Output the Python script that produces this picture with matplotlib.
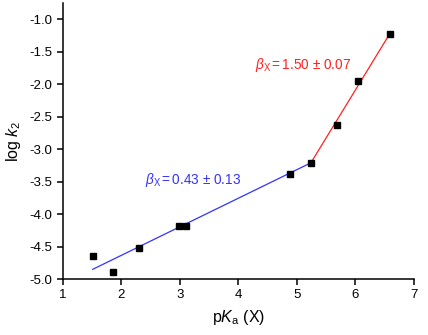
import numpy as np
import matplotlib
matplotlib.use("Agg")
import matplotlib.pyplot as plt

# ======================================================
# DATA
# ======================================================

pka = [1.51, 1.86, 2.30, 2.99, 3.11, 4.89, 5.24, 5.68, 6.04, 6.59]
logk2 = [-4.64, -4.89, -4.52, -4.18, -4.18, -3.39, -3.21, -2.63, -1.95, -1.22]

blue_fit_x = [1.51, 5.24]
blue_fit_y = [-4.85, -3.21]

red_fit_x = [5.24, 6.59]
red_fit_y = [-3.21, -1.22]

x_ticks = [1, 2, 3, 4, 5, 6, 7]
y_ticks = [-5.0, -4.5, -4.0, -3.5, -3.0, -2.5, -2.0, -1.5, -1.0]

# ======================================================
# PLOT
# ======================================================

plt.rcParams["font.family"] = ["Liberation Sans", "DejaVu Sans"]
plt.rcParams["mathtext.fontset"] = "custom"
plt.rcParams["mathtext.rm"] = "Liberation Sans"
plt.rcParams["mathtext.it"] = "Liberation Sans:italic"

fig = plt.figure(figsize=(4.28, 3.35), dpi=100)
ax = fig.add_axes([0.147, 0.167, 0.82, 0.824])

ax.plot(blue_fit_x, blue_fit_y, color="#3333ff", lw=0.9)
ax.plot(red_fit_x, red_fit_y, color="#ff2020", lw=0.9)
ax.plot(pka, logk2, "s", color="black", markersize=4.3, zorder=3)

ax.set_xlim(1, 7)
ax.set_ylim(-5.0, -0.75)
ax.set_xticks(x_ticks)
ax.set_yticks(y_ticks)
ax.set_yticklabels([f"{v:.1f}" for v in y_ticks])

ax.spines["top"].set_visible(False)
ax.spines["right"].set_visible(False)
ax.spines["left"].set_linewidth(1.1)
ax.spines["bottom"].set_linewidth(1.1)
ax.tick_params(direction="out", length=4, width=1.1, labelsize=9.5)

ax.set_xlabel(r"p$\it{K}$$_\mathregular{a}$ (X)", fontsize=11.5, labelpad=5)
ax.set_ylabel(r"log $\it{k}$$_\mathregular{2}$", fontsize=11.5, labelpad=5)

ax.text(4.28, -1.76, r"$\it{\beta}$$_\mathregular{X}$$\,$=$\,$1.50 ± 0.07",
        color="#ff2020", fontsize=9.8)
ax.text(2.4, -3.53, r"$\it{\beta}$$_\mathregular{X}$$\,$=$\,$0.43 ± 0.13",
        color="#3333ff", fontsize=9.8)

fig.savefig("out.png", dpi=100)
